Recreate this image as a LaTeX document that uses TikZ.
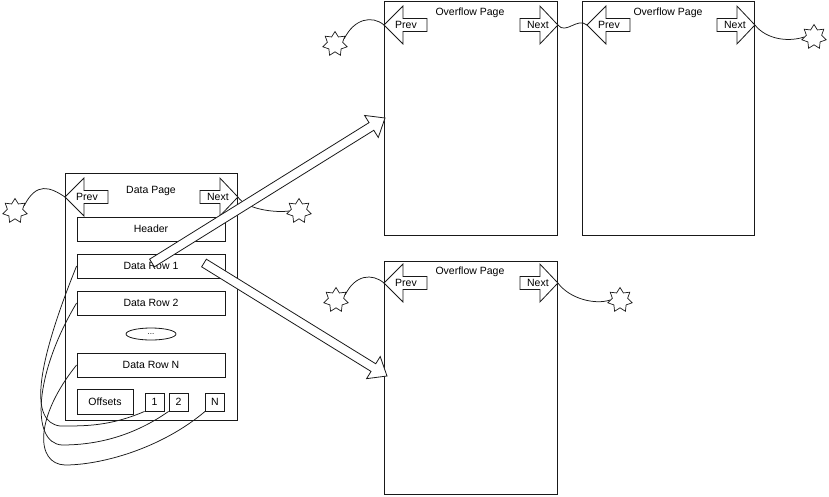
\documentclass[tikz,border=0pt]{standalone}
\usepackage{fontspec}
\setmainfont{Liberation Sans}
\usetikzlibrary{calc,positioning,shapes.geometric}
\colorlet{ink}{black!90}
\tikzset{
  page/.style={draw=ink,line width=0.9pt,anchor=north west,inner sep=0pt},
  rowbox/.style={draw=ink,line width=0.8pt,minimum width=148pt,minimum height=24pt,inner sep=0pt},
  slot/.style={draw=ink,line width=0.8pt,minimum width=19pt,minimum height=18pt,inner sep=0pt},
  blk/.style={draw=ink,line width=0.8pt,fill=white,line join=miter},
  spark/.style={draw=ink,line width=0.7pt,star,star points=7,star point ratio=1.6,
                minimum size=25pt,inner sep=0pt},
  link/.style={draw=ink,line width=0.75pt},
  pics/prevarrow/.style={code={
    \draw[blk] (0,0) -- (19,-19) -- (19,-6.5) -- (43,-6.5) -- (43,6.5) -- (19,6.5) -- (19,19) -- cycle;
    \coordinate (-tip) at (0,0);
    \node[inner sep=0pt] (-txt) at (22,0) {Prev};
  }},
  pics/nextarrow/.style={code={
    \draw[blk] (0,0) -- (-18,-19) -- (-18,-6.5) -- (-38,-6.5) -- (-38,6.5) -- (-18,6.5) -- (-18,19) -- cycle;
    \coordinate (-tip) at (0,0);
    \node[inner sep=0pt] (-txt) at (-20,0) {Next};
  }}
}
% wide white arrow from #1 to #2
\newcommand{\hollowarrow}[2]{%
  \coordinate (hb) at ($(#2)!16pt!(#1)$);
  \draw[blk] ($(#1)!4.5pt!90:(#2)$) -- ($(hb)!4.5pt!90:(#2)$) -- ($(hb)!13pt!90:(#2)$) -- (#2)
    -- ($(hb)!13pt!-90:(#2)$) -- ($(hb)!4.5pt!-90:(#2)$) -- ($(#1)!4.5pt!-90:(#2)$) -- cycle;}

\begin{document}
\begin{tikzpicture}[x=1pt,y=-1pt,font=\fontsize{10.5}{12}\selectfont]
\useasboundingbox (0,0) rectangle (829,496);

% data page
\node[page,minimum width=172pt,minimum height=247pt] (dp) at (65,173) {};
\node (dpt) at (151,191) {Data Page};
\node[rowbox] (hdr) at (151,229) {Header};
\node[rowbox] (r1) at (151,266) {Data Row 1};
\node[rowbox] (r2) at (151,303) {Data Row 2};
\node[draw=ink,line width=0.8pt,ellipse,minimum width=50pt,minimum height=12pt,
      inner sep=0pt,font=\footnotesize] (dots) at (151,334) {...};
\node[rowbox] (rN) at (151,365) {Data Row N};
\node[draw=ink,line width=0.8pt,minimum width=56pt,minimum height=25pt,inner sep=0pt] (offs) at (105,401.5) {Offsets};
\node[slot] (s1) at (154.5,402) {1};
\node[slot] (s2) at (178.5,402) {2};
\node[slot] (sN) at (215,402) {N};
\pic (dpPrev) at ($(dp.north west)+(0,24)$) {prevarrow};
\pic (dpNext) at ($(dp.north east)+(0,24)$) {nextarrow};

% overflow pages
\node[page,minimum width=173pt,minimum height=234pt] (op1) at (384,1) {};
\node[page,minimum width=172pt,minimum height=234pt] (op2) at (582,1) {};
\node[page,minimum width=173pt,minimum height=233pt] (op3) at (384,261) {};
\node (op1t) at (470,13) {Overflow Page};
\node (op2t) at (668,13) {Overflow Page};
\node (op3t) at (470,272) {Overflow Page};
\pic (op1Prev) at ($(op1.north west)+(0,24)$) {prevarrow};
\pic (op1Next) at ($(op1.north east)+(0,24)$) {nextarrow};
\pic (op2Prev) at ($(op2.north west)+(5,24)$) {prevarrow};
\pic (op2Next) at ($(op2.north east)+(0,24)$) {nextarrow};
\pic (op3Prev) at ($(op3.north west)+(0,22)$) {prevarrow};
\pic (op3Next) at ($(op3.north east)+(0,22)$) {nextarrow};

% end markers
\node[spark] (ds1) at (15,211) {};
\node[spark] (ds2) at (299,211) {};
\node[spark] (os1) at (335,44) {};
\node[spark] (os2) at (814,37) {};
\node[spark] (os3) at (336,300) {};
\node[spark] (os4) at (620,300) {};

\draw[link] (ds1.30) .. controls +(12,-24) and +(-15,-10) .. (dpPrev-tip);
\draw[link] (dpNext-tip) .. controls +(8,12) and +(-15,2) .. (ds2.west);
\draw[link] (os1.30) .. controls +(10,-20) and +(-12,-10) .. (op1Prev-tip);
\draw[link] (op1Next-tip) .. controls +(8,10) and +(-10,-8) .. (op2Prev-tip);
\draw[link] (op2Next-tip) .. controls +(12,15) and +(-15,5) .. (os2.west);
\draw[link] (os3.30) .. controls +(10,-20) and +(-12,-10) .. (op3Prev-tip);
\draw[link] (op3Next-tip) .. controls +(12,16) and +(-15,5) .. (os4.west);

% offsets back to rows
\draw[link] (s1.south west) .. controls +(-35,15) and +(25,0) .. (60,426)
  .. controls +(-30,-4) and +(-42,104) .. (r1.west);
\draw[link] (s2.south west) .. controls +(-40,28) and +(28,0) .. (62,445)
  .. controls +(-32,-2) and +(-42,70) .. (r2.west);
\draw[link] (sN.south west) .. controls +(-45,38) and +(35,0) .. (65,465)
  .. controls +(-30,-1) and +(-42,52) .. (rN.west);

% row 1 spills over
\coordinate (a1s) at ($(r1.center)+(1,-3)$);
\coordinate (a1e) at ($(op1.north west)+(1,117)$);
\coordinate (a2s) at ($(r1.center)+(53,-3)$);
\coordinate (a2e) at ($(op3.north west)+(3,115)$);
\hollowarrow{a1s}{a1e}
\hollowarrow{a2s}{a2e}
\end{tikzpicture}
\end{document}
